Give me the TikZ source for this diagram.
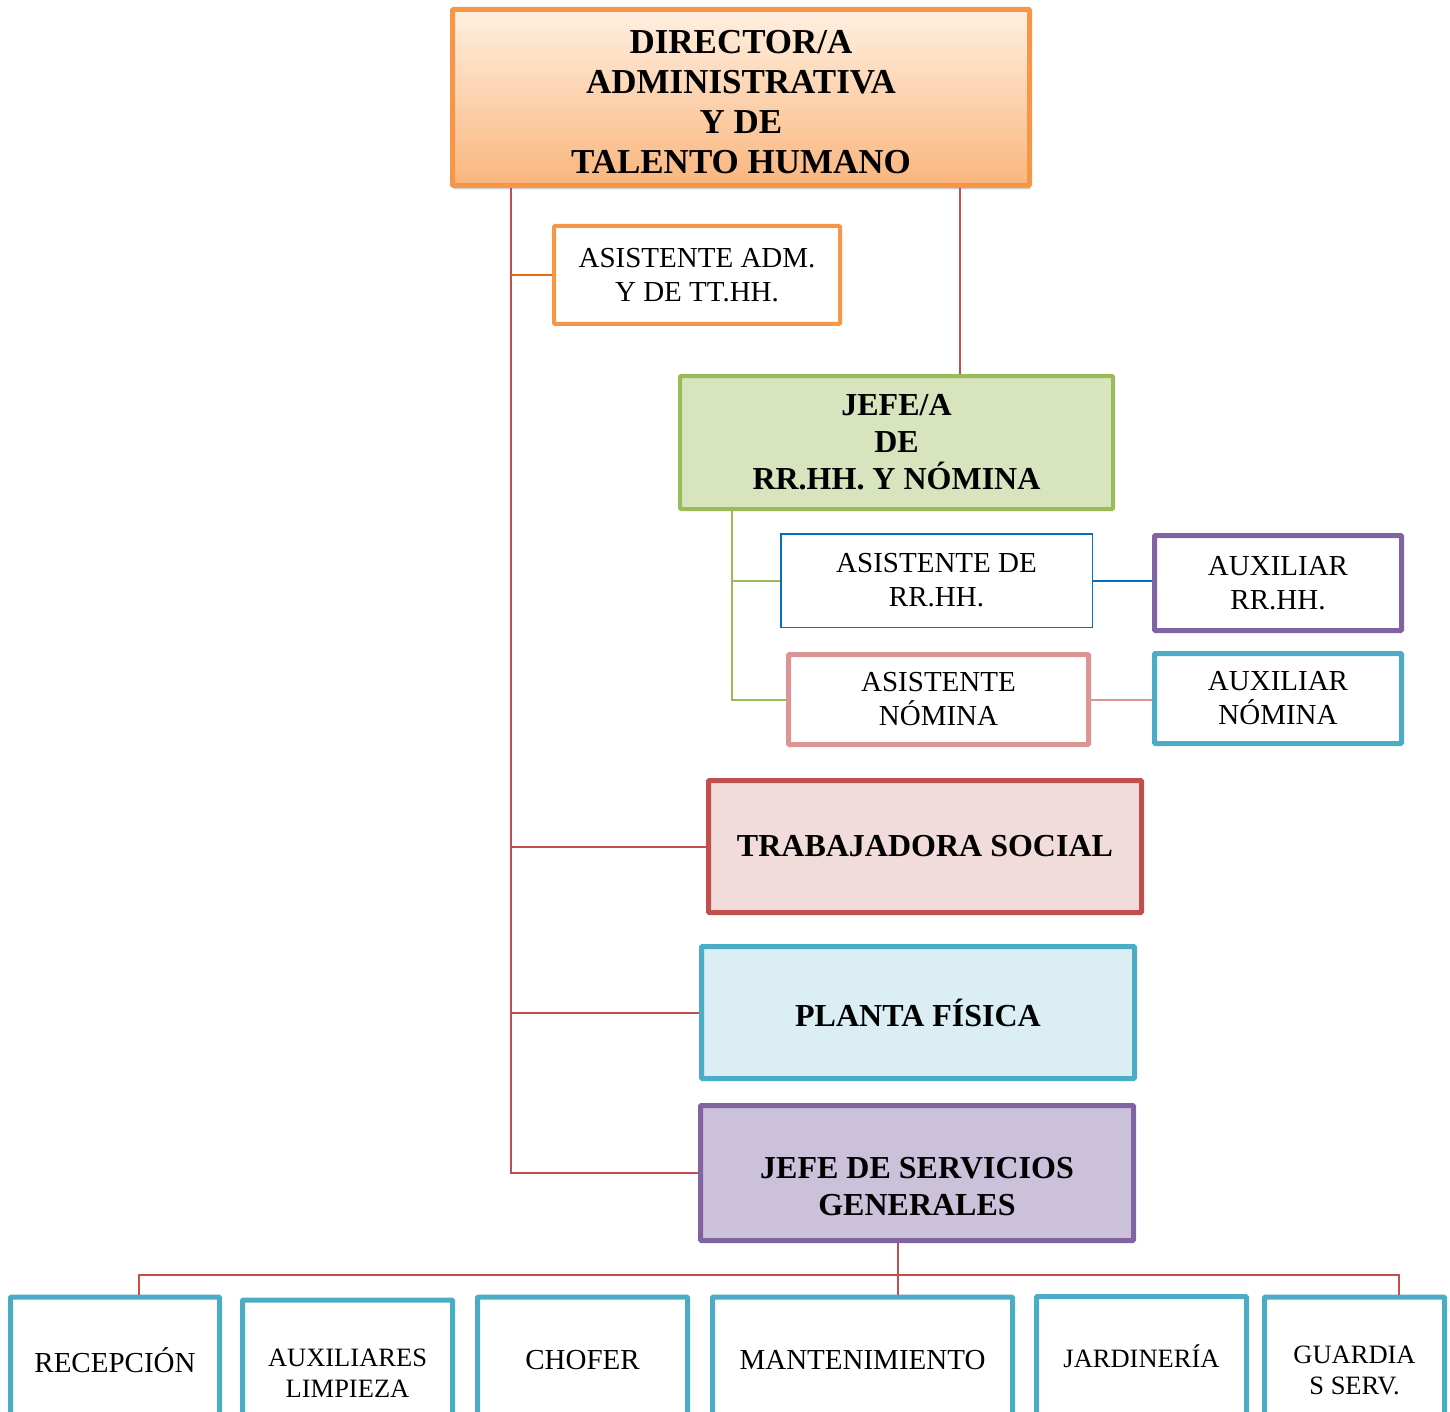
\documentclass[tikz,border=0pt]{standalone}
\usepackage{fontspec}
\setmainfont{Liberation Serif}
\usetikzlibrary{calc,shadows}

\definecolor{orgln}{HTML}{F79646}
\definecolor{orgbr}{HTML}{E46C0A}
\definecolor{grnln}{HTML}{9BBB59}
\definecolor{grnfill}{HTML}{D7E4BD}
\definecolor{bluln}{HTML}{0070C0}
\definecolor{purln}{HTML}{8064A2}
\definecolor{purfill}{HTML}{CCC1DA}
\definecolor{pnkln}{HTML}{D99694}
\definecolor{tealln}{HTML}{4BACC6}
\definecolor{tealfill}{HTML}{DAEEF3}
\definecolor{redln}{HTML}{C0504D}
\definecolor{redfill}{HTML}{F2DCDB}

\begin{document}
\begin{tikzpicture}[
  x=1pt,y=-1pt,
  box/.style={draw,rounded corners=1pt,align=center,inner sep=0pt,line width=5pt,
    font=\fontsize{29}{34}\selectfont},
  bigbox/.style={box,font=\fontsize{32}{37}\selectfont\bfseries},
  lowbox/.style={box,draw=tealln,font=\fontsize{29}{31}\selectfont},
  lowsmall/.style={lowbox,font=\fontsize{26.5}{31}\selectfont},
  link/.style={redln,line width=2pt},
  yscale=1.0
]
\useasboundingbox (0,0) rectangle (1450,1412);
\clip (0,0) rectangle (1450,1412);
% ---------- head ----------
\node[box,draw=orgln,top color=orange!12,bottom color=orgln!70,
  drop shadow={shadow xshift=1pt,shadow yshift=-4pt,opacity=0.35},
  font=\fontsize{35}{40}\selectfont\bfseries,
  minimum width=577,minimum height=176] (director) at (741,97.5)
  {\rule{0pt}{32pt}DIRECTOR/A\\ADMINISTRATIVA\\Y DE\\TALENTO HUMANO};
\node[box,draw=orgln,line width=4pt,fill=white,minimum width=286,minimum height=98]
  (asisadm) at (697,275) {ASISTENTE ADM.\\Y DE TT.HH.};
% ---------- rr.hh. y nomina ----------
\node[bigbox,draw=grnln,line width=4pt,fill=grnfill,minimum width=433,minimum height=133]
  (jeferrhh) at (896.5,442.5) {JEFE/A\\DE\\RR.HH. Y NÓMINA};
\node[box,draw=bluln,line width=1.5pt,rounded corners=0pt,minimum width=311.5,minimum height=93.5]
  (asisrrhh) at (936.5,580.5) {ASISTENTE DE\\RR.HH.};
\node[box,draw=purln,minimum width=247,minimum height=95]
  (auxrrhh) at (1278,583) {AUXILIAR\\RR.HH.};
\node[box,draw=pnkln,minimum width=300,minimum height=90]
  (asisnom) at (938.5,699.5) {ASISTENTE\\NÓMINA};
\node[box,draw=tealln,minimum width=247,minimum height=90]
  (auxnom) at (1278,698.5) {AUXILIAR\\NÓMINA};
% ---------- other units ----------
\node[bigbox,draw=redln,fill=redfill,minimum width=433,minimum height=132]
  (trabsoc) at (925,846.5) {TRABAJADORA SOCIAL};
\node[bigbox,draw=tealln,fill=tealfill,minimum width=433,minimum height=132]
  (planta) at (918,1012.5) {PLANTA FÍSICA};
\node[bigbox,draw=purln,fill=purfill,minimum width=433,minimum height=135]
  (jefeserv) at (917,1173) {\rule{0pt}{48pt}JEFE DE SERVICIOS\\GENERALES};
% ---------- servicios generales ----------
\node[lowbox,minimum width=209,minimum height=126] (recep) at (115,1360) {RECEPCIÓN};
\node[lowsmall,minimum width=210,minimum height=147] (limp) at (347.5,1373.5) {AUXILIARES\\LIMPIEZA};
\node[lowbox,minimum width=210,minimum height=126] (chofer) at (582.5,1360) {CHOFER};
\node[lowbox,minimum width=300,minimum height=126] (mant) at (862.5,1360) {MANTENIMIENTO};
\node[lowsmall,minimum width=210,minimum height=119] (jard) at (1141.5,1356) {JARDINERÍA};
\node[lowsmall,minimum width=180,minimum height=147] (guard) at (1354.5,1370.5) {GUARDIA\\S SERV.};
% ---------- connectors ----------
\coordinate (lt) at (511,1173);
\draw[link] (director.south -| lt) -- (lt) -- (jefeserv.west);
\draw[orgbr,line width=2pt] (asisadm.west) -- (asisadm.west -| lt);
\draw[link] (lt |- trabsoc.west) -- (trabsoc.west);
\draw[link] (lt |- planta.west) -- (planta.west);
\draw[link] ([xshift=63.5]jeferrhh.north) -- ([xshift=63.5]jeferrhh.north |- director.south);
\coordinate (gt) at ([xshift=-164.5]jeferrhh.south);
\draw[grnln,line width=2pt] (gt) |- (asisnom.west);
\draw[grnln,line width=2pt] (gt |- asisrrhh.west) -- (asisrrhh.west);
\draw[bluln,line width=2pt] (asisrrhh.east) -- (asisrrhh.east -| auxrrhh.west);
\draw[pnkln,line width=2pt] (asisnom.east) -- (asisnom.east -| auxnom.west);
\coordinate (bus) at (898,1275);
\draw[link,line width=2.2pt] ([xshift=-19]jefeserv.south) -- (bus) -- (bus |- mant.north);
\draw[link,line width=2.2pt] ([xshift=24]recep.north) |- (bus) -| ([xshift=44.5]guard.north);
\end{tikzpicture}
\end{document}
